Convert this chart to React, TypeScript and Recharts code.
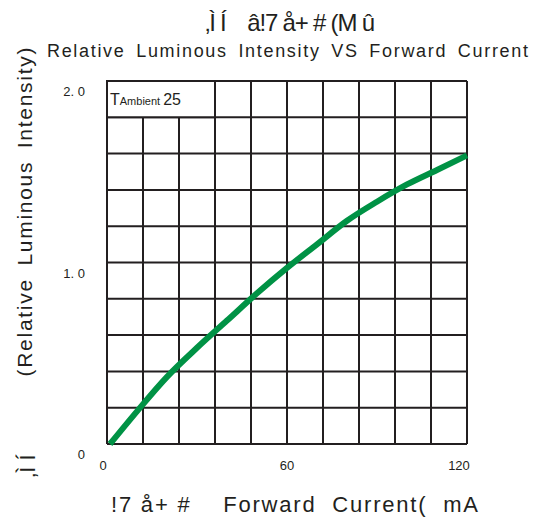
import React from 'react';
import { LineChart, Line, XAxis, YAxis, CartesianGrid, ReferenceArea } from 'recharts';

const currentMA = [1, 10, 20, 30, 40, 50, 60, 70, 80, 90, 100, 110, 120];
const relLuminous = [0, 0.18, 0.37, 0.53, 0.68, 0.83, 0.97, 1.1, 1.23, 1.335, 1.43, 1.51, 1.59];
const xGridTicks = [0, 12, 24, 36, 48, 60, 72, 84, 96, 108, 120];
const yGridTicks = [0, 0.2, 0.4, 0.6, 0.8, 1.0, 1.2, 1.4, 1.6, 1.8, 2.0];
const xLabelled: Record<number, string> = { 0: '0', 60: '60', 120: '120' };
const yLabelled: Record<number, string> = { 0: '0', 1: '1. 0', 2: '2. 0' };

const titleLine1 = '‚Ì Í    â!7 å+ # (M û';
const titleLine2 = 'Relative Luminous Intensity VS Forward Current';
const yTitle = '(Relative Luminous Intensity)';
const yTitleGarbled = '‚Ì Í';
const xTitle = '!7 å+ #    Forward  Current(  mA';

const data = currentMA.map((c, i) => ({ current: c, lum: relLuminous[i] }));

const INK = '#231f20';
const FONT = '"Liberation Sans", Arial, sans-serif';

const XTick = (props: any) => {
  const { x, y, payload } = props;
  const v = Math.round(payload.value);
  if (!(v in xLabelled)) return null;
  const dx = v === 120 ? -8 : v === 0 ? -4 : 0;
  return (
    <text x={x + dx} y={y + 18} textAnchor="middle" fontSize={13} fill={INK} fontFamily={FONT}>
      {xLabelled[v]}
    </text>
  );
};

const YTick = (props: any) => {
  const { x, y, payload } = props;
  const v = Math.round(payload.value * 10) / 10;
  if (!(v in yLabelled)) return null;
  return (
    <text x={x - 14} y={y + 15} textAnchor="end" fontSize={13} fill={INK} fontFamily={FONT}>
      {yLabelled[v]}
    </text>
  );
};

const BoxLabel = (props: any) => {
  const vb = props.viewBox || {};
  const x = vb.x + 3;
  const y = vb.y + vb.height / 2 + 6;
  return (
    <text x={x} y={y} fill={INK} fontFamily={FONT}>
      <tspan fontSize={16}>T</tspan>
      <tspan fontSize={11}>Ambient </tspan>
      <tspan fontSize={16}>25</tspan>
    </text>
  );
};

export default function App() {
  return (
    <div style={{ position: 'absolute', left: 0, top: 0, width: 533, height: 522, background: '#fff' }}>
      <LineChart
        width={533}
        height={522}
        data={data}
        margin={{ top: 81, right: 66, bottom: 48, left: 67 }}
      >
        <CartesianGrid stroke={INK} strokeWidth={2} />
        <XAxis
          dataKey="current"
          type="number"
          domain={[0, 120]}
          ticks={xGridTicks}
          interval={0}
          axisLine={false}
          tickLine={false}
          height={30}
          tick={<XTick />}
        />
        <YAxis
          type="number"
          domain={[0, 2]}
          ticks={yGridTicks}
          interval={0}
          axisLine={false}
          tickLine={false}
          width={40}
          tick={<YTick />}
        />
        <ReferenceArea
          x1={0}
          x2={36}
          y1={1.8}
          y2={2}
          fill="#fff"
          fillOpacity={1}
          stroke={INK}
          strokeWidth={2}
          ifOverflow="visible"
          label={<BoxLabel />}
        />
        <Line
          type="monotone"
          dataKey="lum"
          stroke="#009245"
          strokeWidth={6}
          dot={false}
          isAnimationActive={false}
        />
      </LineChart>
      <svg
        width={533}
        height={522}
        style={{ position: 'absolute', left: 0, top: 0, pointerEvents: 'none' }}
      >
        <text x={205} y={31} fontSize={24} fill={INK} fontFamily={FONT} textLength={170} lengthAdjust="spacing" style={{ whiteSpace: 'pre' }}>
          {titleLine1}
        </text>
        <text x={47} y={57} fontSize={18} fill={INK} fontFamily={FONT} textLength={481} lengthAdjust="spacing" style={{ whiteSpace: 'pre', wordSpacing: 4 }}>
          {titleLine2}
        </text>
        <text
          x={32}
          y={212}
          fontSize={21}
          fill={INK}
          fontFamily={FONT}
          textAnchor="middle"
          textLength={329}
          lengthAdjust="spacing"
          transform="rotate(-90, 32, 212)"
          style={{ whiteSpace: 'pre', wordSpacing: 5 }}
        >
          {yTitle}
        </text>
        <text
          x={35}
          y={466}
          fontSize={22}
          fill={INK}
          fontFamily={FONT}
          textAnchor="middle"
          transform="rotate(-90, 35, 466)"
          style={{ whiteSpace: 'pre' }}
        >
          {yTitleGarbled}
        </text>
        <text x={111} y={512} fontSize={22} fill={INK} fontFamily={FONT} textLength={367} lengthAdjust="spacing" style={{ whiteSpace: 'pre' }}>
          {xTitle}
        </text>
      </svg>
    </div>
  );
}
